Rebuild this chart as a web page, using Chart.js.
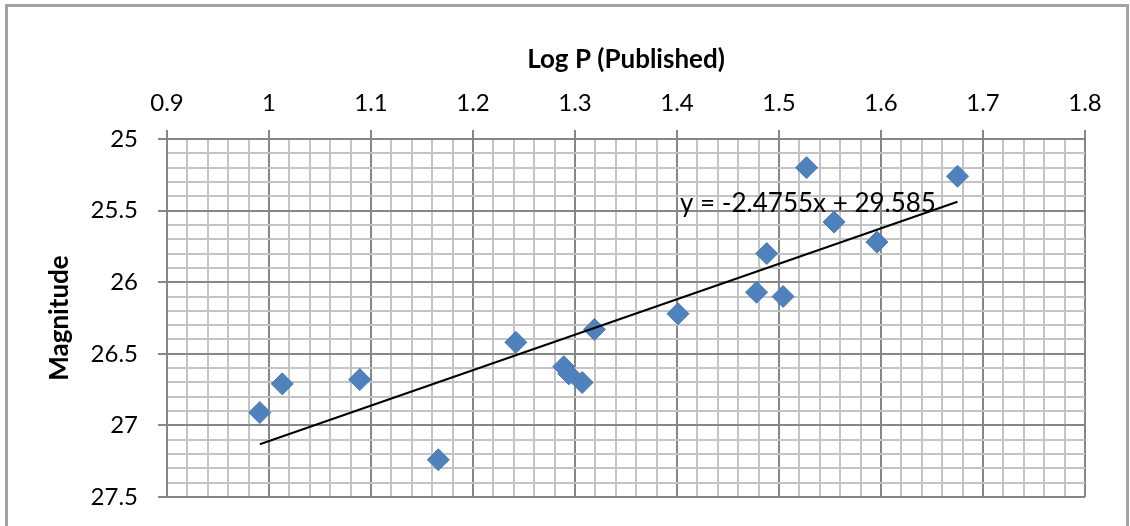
<!DOCTYPE html>
<html>
<head>
<meta charset="utf-8">
<title>Log P vs Magnitude</title>
<script src="https://cdn.jsdelivr.net/npm/chart.js@4.4.1/dist/chart.umd.min.js"></script>
<style>
  html, body { margin: 0; padding: 0; background: #fff; overflow: hidden; }
  #frame { position: absolute; left: 5px; top: 4px; width: 1118px; height: 600px; border: 3px solid #a3a3a3; }
  #chart { position: absolute; left: 0; top: 0; }
</style>
</head>
<body>
<div id="frame"></div>
<canvas id="chart" width="1130" height="526"></canvas>
<script>
// 数据：周期对数与星等
const logP = [0.991, 1.013, 1.089, 1.166, 1.242, 1.289, 1.294, 1.307, 1.319, 1.401, 1.478, 1.488, 1.504, 1.527, 1.554, 1.596, 1.675];
const magnitude = [26.91, 26.71, 26.68, 27.24, 26.42, 26.59, 26.64, 26.70, 26.33, 26.22, 26.07, 25.80, 26.10, 25.20, 25.58, 25.72, 25.26];

// 趋势线（图上标注的方程）
const trendSlope = -2.4755;
const trendIntercept = 29.585;
const trendLabel = 'y = -2.4755x + 29.585';

// 坐标轴范围与刻度
const xMin = 0.9, xMax = 1.8, xMajor = 0.1, xMinor = 0.02;
const yMin = 25, yMax = 27.5, yMajor = 0.5, yMinor = 0.1;

const FONT = 'Lato, "Open Sans", sans-serif';

const isMajor = (v, step) => Math.abs(v / step - Math.round(v / step)) < 1e-6;

const trendX = [Math.min(...logP), Math.max(...logP)];
const trendPoints = trendX.map(x => ({ x, y: trendSlope * x + trendIntercept }));

// 方程文字
const equationLabel = {
  id: 'equationLabel',
  afterDatasetsDraw(chart) {
    const { ctx, scales: { x, y } } = chart;
    ctx.save();
    ctx.font = '26px ' + FONT;
    ctx.fillStyle = '#000';
    ctx.textAlign = 'left';
    ctx.textBaseline = 'middle';
    ctx.fillText(trendLabel, x.getPixelForValue(1.403), y.getPixelForValue(25.45));
    ctx.restore();
  }
};

new Chart(document.getElementById('chart'), {
  type: 'scatter',
  data: {
    datasets: [
      {
        type: 'line',
        label: 'Trend',
        data: trendPoints,
        borderColor: '#000',
        borderWidth: 2,
        pointRadius: 0,
        fill: false
      },
      {
        label: 'Magnitude',
        data: logP.map((x, i) => ({ x, y: magnitude[i] })),
        pointStyle: 'rectRot',
        pointRadius: 11,
        backgroundColor: '#4f81bd',
        borderColor: '#4a7ab5',
        borderWidth: 1
      }
    ]
  },
  plugins: [equationLabel],
  options: {
    responsive: false,
    animation: false,
    layout: { padding: { left: 0, top: 0, right: 45, bottom: 29 } },
    plugins: { legend: { display: false }, tooltip: { enabled: false } },
    scales: {
      x: {
        type: 'linear',
        position: 'top',
        min: xMin,
        max: xMax,
        afterFit(scale) { scale.height = 139; },
        ticks: {
          stepSize: xMinor,
          maxTicksLimit: 200,
          autoSkip: false,
          maxRotation: 0,
          padding: 12,
          color: '#000',
          font: { family: FONT, size: 24 },
          callback: v => isMajor(v, xMajor) ? String(+v.toFixed(1)) : ''
        },
        grid: {
          color: c => isMajor(c.tick.value, xMajor) ? '#878787' : '#c4c4c4',
          lineWidth: 2,
          tickLength: 9,
          tickColor: c => isMajor(c.tick.value, xMajor) ? '#878787' : 'rgba(0,0,0,0)'
        },
        border: { color: '#878787', width: 2 },
        title: {
          display: true,
          text: 'Log P (Published)',
          color: '#000',
          font: { family: FONT, size: 26, weight: 'bold' },
          padding: { top: 44, bottom: 0 }
        }
      },
      y: {
        type: 'linear',
        reverse: true,
        min: yMin,
        max: yMax,
        afterFit(scale) {
          scale.width = 167;
          scale.paddingTop = 0;
          scale.paddingBottom = 0;
        },
        ticks: {
          stepSize: yMinor,
          maxTicksLimit: 200,
          autoSkip: false,
          padding: 20,
          color: '#000',
          font: { family: FONT, size: 24 },
          callback: v => isMajor(v, yMajor) ? String(+v.toFixed(1)) : ''
        },
        grid: {
          color: c => isMajor(c.tick.value, yMajor) ? '#878787' : '#c4c4c4',
          lineWidth: 2,
          tickLength: 9,
          tickColor: c => isMajor(c.tick.value, yMajor) ? '#878787' : 'rgba(0,0,0,0)'
        },
        border: { color: '#878787', width: 2 },
        title: {
          display: true,
          text: 'Magnitude',
          color: '#000',
          font: { family: FONT, size: 26, weight: 'bold' },
          padding: { top: 44, bottom: 0 }
        }
      }
    }
  }
});
</script>
</body>
</html>
